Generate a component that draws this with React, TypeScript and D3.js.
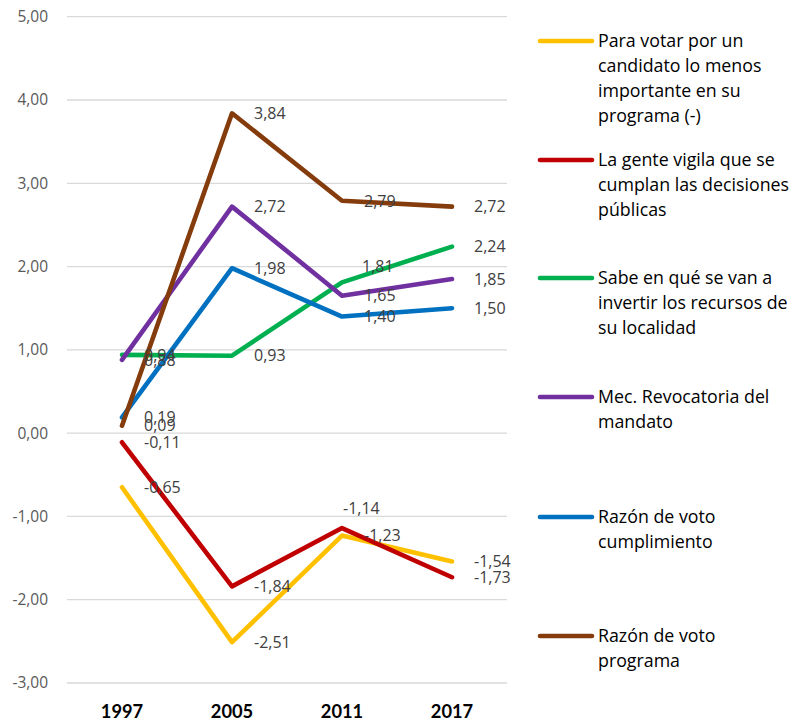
import React, { useEffect, useRef } from 'react';
import * as d3 from 'd3';

const years = ['1997', '2005', '2011', '2017'];
const yTicks = [-3, -2, -1, 0, 1, 2, 3, 4, 5];

const votarValues = [-0.65, -2.51, -1.23, -1.54];
const vigilaValues = [-0.11, -1.84, -1.14, -1.73];
const recursosValues = [0.94, 0.93, 1.81, 2.24];
const revocatoriaValues = [0.88, 2.72, 1.65, 1.85];
const cumplimientoValues = [0.19, 1.98, 1.40, 1.50];
const programaValues = [0.09, 3.84, 2.79, 2.72];

const series = [
  { lines: ['Para votar por un', 'candidato lo menos', 'importante en su', 'programa (-)'], color: '#FFC000', values: votarValues },
  { lines: ['La gente vigila que se', 'cumplan las decisiones', 'públicas'], color: '#C00000', values: vigilaValues },
  { lines: ['Sabe en qué se van a', 'invertir los recursos de', 'su localidad'], color: '#00B050', values: recursosValues },
  { lines: ['Mec. Revocatoria del', 'mandato'], color: '#7030A0', values: revocatoriaValues },
  { lines: ['Razón de voto', 'cumplimiento'], color: '#0070C0', values: cumplimientoValues },
  { lines: ['Razón de voto', 'programa'], color: '#843C0C', values: programaValues },
];

// a few labels that Excel placed above the point instead of to the right
const labelShift: Record<string, [number, number]> = {
  '1-2': [-21, -20],
  '2-2': [-2, -16],
};

const W = 799;
const H = 721;
const FONT = '"Open Sans", Lato, sans-serif';

const fmt = (v: number) => v.toFixed(2).replace('.', ',');

const App = () => {
  const svgRef = useRef<SVGSVGElement>(null);

  useEffect(() => {
    const svg = d3.select(svgRef.current);
    svg.selectAll('*').remove();

    const left = 67, right = 507, top = 16.7, bottom = 683;

    const x = d3.scaleBand<string>().domain(years).range([left, right]);
    const y = d3.scaleLinear().domain([-3, 5]).range([bottom, top]);
    const cx = (i: number) => (x(years[i]) as number) + x.bandwidth() / 2;

    // gridlines
    svg.append('g')
      .selectAll('line')
      .data(yTicks)
      .join('line')
      .attr('x1', left).attr('x2', right)
      .attr('y1', d => y(d)).attr('y2', d => y(d))
      .attr('stroke', '#D9D9D9')
      .attr('stroke-width', 1.3);

    // y labels
    svg.append('g')
      .selectAll('text')
      .data(yTicks)
      .join('text')
      .attr('x', 48)
      .attr('y', d => y(d))
      .attr('dy', '0.35em')
      .attr('text-anchor', 'end')
      .attr('font-family', FONT)
      .attr('font-size', 15.5)
      .attr('fill', '#595959')
      .text(d => fmt(d));

    // x labels
    svg.append('g')
      .selectAll('text')
      .data(years)
      .join('text')
      .attr('x', (d, i) => cx(i))
      .attr('y', 718)
      .attr('text-anchor', 'middle')
      .attr('font-family', 'Lato, sans-serif')
      .attr('font-weight', 'bold')
      .attr('font-size', 18.3)
      .attr('fill', '#000')
      .text(d => d);

    const line = d3.line<number>()
      .x((d, i) => cx(i))
      .y(d => y(d));

    svg.append('g')
      .selectAll('path')
      .data(series)
      .join('path')
      .attr('d', d => line(d.values))
      .attr('fill', 'none')
      .attr('stroke', d => d.color)
      .attr('stroke-width', 4.6)
      .attr('stroke-linejoin', 'round')
      .attr('stroke-linecap', 'round');

    // value labels
    const labels = svg.append('g');
    series.forEach((s, si) => {
      labels.selectAll(null)
        .data(s.values)
        .join('text')
        .attr('x', (d, i) => cx(i) + 22 + (labelShift[`${si}-${i}`]?.[0] ?? 0))
        .attr('y', (d, i) => y(d) + (labelShift[`${si}-${i}`]?.[1] ?? 0))
        .attr('dy', '0.36em')
        .attr('font-family', FONT)
        .attr('font-size', 16)
        .attr('fill', '#404040')
        .text(d => fmt(d));
    });

    // legend
    const legendY = [41, 160, 278, 397, 517, 636];
    const legend = svg.append('g')
      .selectAll('g')
      .data(series)
      .join('g')
      .attr('transform', (d, i) => `translate(0,${legendY[i]})`);

    legend.append('line')
      .attr('x1', 540).attr('x2', 592)
      .attr('y1', 0).attr('y2', 0)
      .attr('stroke', d => d.color)
      .attr('stroke-width', 4.6)
      .attr('stroke-linecap', 'round');

    legend.append('text')
      .attr('font-family', FONT)
      .attr('font-size', 17.8)
      .attr('fill', '#000')
      .selectAll('tspan')
      .data(d => d.lines)
      .join('tspan')
      .attr('x', 598)
      .attr('y', (d, i) => i * 25)
      .attr('dy', '0.36em')
      .text(d => d);
  }, []);

  return (
    <svg
      ref={svgRef}
      width={W}
      height={H}
      style={{ position: 'absolute', left: 0, top: 0, background: '#fff' }}
    />
  );
};

export default App;
